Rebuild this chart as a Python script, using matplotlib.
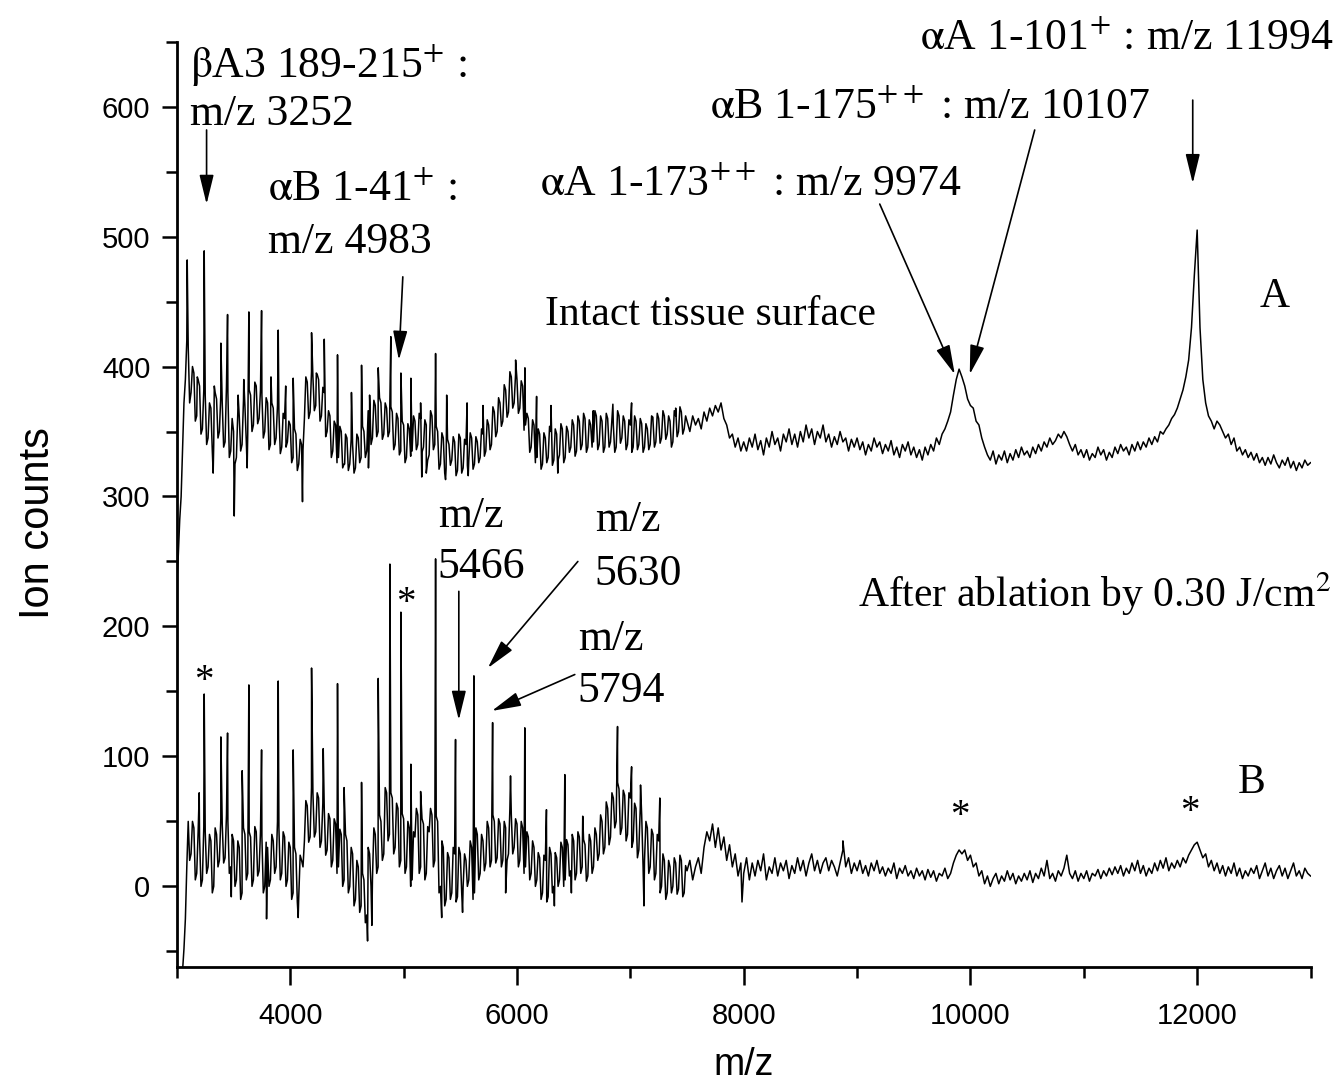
import numpy as np
import matplotlib.pyplot as plt
from matplotlib.ticker import MultipleLocator

plt.rcParams['mathtext.fontset'] = 'stix'

# m/z grid of the digitised baseline (25 Da steps, 3000..13000)
mz_grid = np.arange(3000, 13001, 25)
# extra in-between channels for the noisy low-mass part (3012.5..7487.5)
mz_mid = np.arange(3012.5, 7500, 25)

# trace A: intact tissue surface (baseline, one row per 500 Da)
base_a = [
    235, 282, 335, 390, 415, 380, 395, 362, 385, 352, 378, 345, 368, 340, 375, 350, 372, 342, 380, 335,
    350, 330, 362, 340, 370, 348, 378, 355, 385, 360, 378, 350, 372, 340, 368, 345, 365, 338, 360, 342,
    355, 330, 348, 325, 340, 360, 388, 365, 392, 370, 390, 362, 380, 350, 362, 335, 355, 330, 350, 325,
    345, 325, 340, 322, 345, 330, 350, 335, 362, 345, 370, 350, 372, 348, 368, 350, 365, 340, 360, 335,
    355, 330, 352, 335, 358, 340, 360, 338, 355, 332, 362, 340, 350, 325, 345, 322, 340, 328, 342, 320,
    345, 322, 340, 328, 345, 325, 342, 330, 348, 335, 355, 340, 365, 350, 372, 358, 382, 365, 392, 372,
    390, 368, 385, 355, 360, 338, 355, 330, 348, 325, 345, 330, 350, 328, 348, 332, 352, 330, 350, 338,
    355, 335, 358, 340, 360, 338, 355, 342, 362, 340, 358, 338, 360, 342, 355, 338, 362, 345, 358, 340,
    355, 338, 358, 340, 356, 338, 352, 340, 358, 342, 360, 345, 362, 348, 358, 342, 362, 350, 365, 352,
    358, 350, 362, 355, 360, 352, 365, 358, 368, 362, 370, 365, 372, 360, 355, 345, 348, 338, 345, 335,
    342, 335, 345, 338, 348, 336, 343, 332, 345, 338, 350, 340, 345, 335, 348, 342, 352, 340, 348, 338,
    350, 342, 355, 345, 352, 340, 350, 345, 355, 342, 348, 338, 346, 340, 350, 342, 345, 335, 344, 338,
    345, 336, 342, 332, 340, 335, 345, 338, 342, 333, 340, 335, 343, 332, 338, 330, 340, 335, 342, 332,
    338, 330, 336, 328, 338, 332, 340, 335, 345, 340, 348, 352, 358, 365, 378, 390, 398, 392, 385, 375,
    370, 368, 358, 355, 345, 338, 332, 328, 335, 325, 332, 328, 335, 326, 333, 328, 336, 330, 338, 332,
    335, 330, 338, 333, 340, 335, 342, 338, 345, 340, 343, 348, 345, 350, 346, 340, 335, 340, 332, 336,
    330, 336, 328, 333, 330, 338, 332, 336, 328, 334, 330, 338, 333, 340, 335, 338, 332, 340, 335, 342,
    336, 342, 338, 345, 340, 346, 342, 350, 348, 352, 355, 360, 363, 368, 375, 382, 392, 405, 430, 470,
    505, 430, 390, 372, 362, 358, 352, 358, 355, 350, 345, 348, 340, 345, 335, 338, 332, 336, 330, 334,
    328, 333, 326, 330, 324, 330, 325, 332, 326, 322, 328, 324, 330, 322, 327, 320, 326, 322, 328, 324,
    326,
]
mid_a = [
    255, 300, 372, 420, 372, 400, 358, 390, 348, 382, 340, 372, 335, 380, 345, 378, 338, 385, 330, 360,
    325, 365, 335, 374, 342, 382, 350, 388, 356, 382, 345, 376, 336, 372, 340, 370, 333, 364, 338, 358,
    326, 352, 320, 344, 336, 392, 360, 396, 366, 394, 358, 384, 346, 366, 330, 358, 326, 354, 322, 348,
    320, 344, 318, 348, 326, 354, 330, 366, 340, 374, 346, 376, 344, 372, 346, 369, 336, 364, 332, 358,
    326, 356, 331, 362, 336, 364, 334, 359, 328, 366, 336, 354, 321, 349, 318, 344, 324, 346, 316, 348,
    318, 344, 324, 349, 321, 346, 326, 352, 331, 359, 336, 369, 346, 376, 354, 386, 361, 396, 368, 394,
    364, 389, 351, 364, 334, 359, 326, 352, 321, 349, 326, 354, 324, 352, 328, 356, 326, 354, 334, 359,
    331, 362, 336, 364, 334, 359, 338, 366, 336, 362, 334, 364, 338, 359, 334, 366, 341, 362, 336, 359,
    334, 362, 336, 360, 334, 356, 336, 362, 338, 364, 341, 366, 344, 362, 338, 366, 346, 369, 348, 362,
]

# sharp single-channel spikes of trace A (m/z, counts)
spike_mz_a = [3091, 3180, 3241, 3320, 3330, 3388, 3447, 3506, 3540, 3590, 3620, 3635, 3700, 3747,
              3830, 3894, 3960, 4026, 4108, 4188, 4230, 4300, 4417, 4480, 4540, 4629, 4690, 4700,
              4776, 4887, 4976, 5064, 5150, 5160, 5200, 5282, 5370, 5380, 5560, 5570, 5700, 5988,
              6070, 6173, 6300, 6360, 6673, 6846, 7011, 7199, 7400]
spike_a = [482, 392, 489, 318, 385, 418, 440, 285, 378, 390, 322, 442, 385, 443,
           392, 428, 385, 391, 296, 426, 395, 421, 409, 325, 380, 401, 322, 378,
           399, 423, 395, 391, 372, 315, 318, 410, 313, 378, 372, 316, 370, 405,
           399, 377, 370, 318, 366, 371, 372, 361, 368]

# trace B: after ablation by 0.30 J/cm2
base_b = [
    -80, -75, -65, -25, 50, 25, 45, 10, 38, 5, 42, 15, 35, 0, 40, 20, 48, 22, 50, 15,
    35, 5, 30, -5, 40, 10, 38, 5, 42, 12, 38, 0, 30, 5, 35, 15, 45, 10, 38, 5,
    30, -5, 25, -8, 20, 35, 62, 38, 72, 42, 68, 35, 60, 28, 52, 20, 48, 15, 40, 5,
    35, 0, 25, -10, 15, -15, 5, -22, 25, 5, 40, 15, 50, 25, 72, 40, 68, 30, 60, 20,
    52, 15, 45, 5, 38, 55, 15, 48, 10, 42, 55, 20, 50, 0, 30, -10, 22, -5, 25, -8,
    25, 0, 20, 5, 30, -5, 40, 10, 35, 18, 45, 20, 50, 22, 48, 20, 45, 25, 55, 30,
    48, 20, 45, 15, 38, 10, 30, 5, 22, -5, 20, -8, 25, 0, 22, 5, 30, 5, 32, 12,
    35, 10, 38, 15, 32, 8, 35, 15, 40, 25, 50, 30, 60, 38, 68, 50, 75, 45, 70, 40,
    68, 35, 60, 28, 55, 20, 45, 15, 40, 10, 35, 0, 20, -5, 15, 0, 18, -2, 20, -5,
    12, 20, 5, 15, 22, 10, 30, 42, 35, 48, 30, 45, 28, 38, 20, 32, 15, 25, 8, 18,
    10, 22, 5, 18, 8, 20, 12, 25, 5, 15, 10, 22, 8, 18, 12, 20, 6, 16, 10, 22,
    12, 20, 8, 18, 25, 12, 20, 10, 18, 22, 12, 20, 15, 8, 18, 28, 15, 22, 10, 18,
    12, 20, 10, 16, 8, 18, 12, 20, 10, 15, 8, 14, 10, 18, 6, 14, 10, 16, 8, 12,
    6, 14, 8, 12, 5, 13, 7, 12, 4, 10, 8, 14, 6, 10, 18, 24, 28, 25, 28, 20,
    24, 15, 18, 8, 12, 2, 8, 0, 6, 10, 2, 8, 4, 12, 5, 10, 2, 8, 4, 10,
    5, 12, 3, 10, 6, 14, 8, 20, 6, 10, 4, 12, 8, 14, 24, 10, 6, 12, 4, 10,
    6, 12, 4, 10, 8, 13, 6, 12, 8, 14, 9, 15, 10, 16, 8, 14, 10, 18, 12, 20,
    10, 16, 8, 14, 10, 18, 12, 20, 14, 22, 12, 18, 14, 20, 15, 22, 18, 24, 28, 32,
    34, 28, 22, 25, 15, 20, 12, 18, 10, 16, 8, 15, 10, 18, 8, 14, 6, 12, 8, 14,
    10, 16, 6, 12, 18, 8, 14, 6, 12, 16, 8, 14, 6, 12, 18, 8, 12, 6, 14, 10,
    8,
]
mid_b = [
    -78, -70, -48, 15, 20, 50, 5, 42, 0, 46, 10, 40, -5, 45, 15, 52, 18, 55, 10, 40,
    0, 35, -10, 45, 5, 42, 0, 46, 8, 42, -5, 34, 0, 40, 10, 50, 5, 42, 0, 34,
    -10, 30, -12, 24, 15, 66, 34, 76, 38, 72, 30, 64, 24, 56, 15, 52, 10, 44, 0, 40,
    -5, 30, -15, 20, -20, 10, -28, 30, 0, 45, 10, 55, 20, 76, 35, 72, 25, 64, 15, 56,
    10, 50, 0, 42, 60, 10, 52, 5, 46, 60, 15, 54, -5, 35, -15, 26, -10, 30, -12, 30,
    -5, 25, 0, 35, -10, 45, 5, 40, 12, 50, 15, 55, 18, 52, 15, 50, 20, 60, 25, 52,
    15, 50, 10, 42, 5, 35, 0, 26, -10, 24, -12, 30, -5, 26, 0, 34, 0, 36, 8, 40,
    5, 42, 10, 36, 4, 40, 10, 45, 20, 55, 25, 65, 32, 72, 45, 80, 40, 74, 35, 72,
    30, 64, 22, 60, 15, 50, 10, 44, 5, 40, -5, 25, -10, 20, -5, 22, -6, 24, -8, 16,
]

spike_mz_b = [3197, 3241, 3388, 3447, 3480, 3576, 3635, 3747, 3791, 3894, 4026, 4070, 4188, 4291,
              4417, 4475, 4629, 4682, 4720, 4776, 4879, 4976, 5064, 5150, 5282, 5336, 5458, 5520,
              5620, 5785, 5900, 5943, 6069, 6260, 6330, 6422, 6480, 6580, 6887, 7011, 7090, 7120,
              7260, 7985, 8875]
spike_b = [72, 148, 115, 118, -8, 89, 155, 105, -25, 158, 105, -24, 168, 106,
           156, 76, 80, -42, -30, 160, 248, 211, 94, 73, 252, -24, 113, -20,
           162, 126, -5, 85, 122, 59, -15, 86, -5, 54, 123, 92, 78, -15,
           68, -12, 35]


def merge(base, mid, spike_mz, spike_y):
    mz = np.concatenate([mz_grid, mz_mid, spike_mz])
    y = np.concatenate([base, mid, spike_y])
    order = np.argsort(mz, kind='stable')
    return mz[order], y[order]


mz_a, y_a = merge(base_a, mid_a, spike_mz_a, spike_a)
mz_b, y_b = merge(base_b, mid_b, spike_mz_b, spike_b)

fig = plt.figure(figsize=(13.4, 10.81), dpi=100)
ax = fig.add_axes([0.132, 0.1055, 0.846, 0.856])

ax.plot(mz_a, y_a, color='black', lw=1.1)
ax.plot(mz_b, y_b, color='black', lw=1.1)

ax.set_xlim(3000, 13000)
ax.set_ylim(-62, 650)

for s in ['top', 'right']:
    ax.spines[s].set_visible(False)
for s in ['left', 'bottom']:
    ax.spines[s].set_linewidth(2.0)

ax.xaxis.set_major_locator(MultipleLocator(2000))
ax.xaxis.set_minor_locator(MultipleLocator(1000))
ax.yaxis.set_major_locator(MultipleLocator(100))
ax.yaxis.set_minor_locator(MultipleLocator(50))
ax.set_xticks([4000, 6000, 8000, 10000, 12000])
ax.set_yticks([0, 100, 200, 300, 400, 500, 600])
ax.tick_params(axis='x', which='major', direction='out', length=13, width=1.8,
               labelsize=21, pad=12)
ax.tick_params(axis='x', which='minor', direction='out', length=8, width=1.8)
ax.tick_params(axis='y', which='major', direction='out', length=11, width=1.8,
               labelsize=21, pad=8)
ax.tick_params(axis='y', which='minor', direction='out', length=8, width=1.8)
for lab in ax.get_xticklabels() + ax.get_yticklabels():
    lab.set_family('Liberation Sans')

ax.set_xlabel('m/z', fontsize=27, family='Liberation Sans')
ax.set_ylabel('Ion counts', fontsize=30, family='Liberation Sans')
ax.xaxis.set_label_coords(0.5, -0.086)
ax.yaxis.set_label_coords(-0.105, 0.48)

serif = 'Liberation Serif'
fs = 31.5
arrow = dict(arrowstyle='-|>,head_length=0.9,head_width=0.22', color='black', lw=1.2,
             mutation_scale=20, shrinkA=0, shrinkB=0)

# labels for trace A
ax.text(3115, 631, r'$\mathrm{\beta}$A3 189-215$^{+}$ :', fontsize=fs, family=serif,
        va='center', ha='left')
ax.text(3115, 594, 'm/z 3252', fontsize=fs, family=serif, va='center', ha='left')
ax.annotate('', xy=(3262, 525), xytext=(3262, 582), arrowprops=arrow)

ax.text(3803, 536, r'$\mathrm{\alpha}$B 1-41$^{+}$ :', fontsize=fs, family=serif,
        va='center', ha='left')
ax.text(3803, 496, 'm/z 4983', fontsize=fs, family=serif, va='center', ha='left')
ax.annotate('', xy=(4958, 405), xytext=(4993, 469), arrowprops=arrow)

ax.text(6202, 540, r'$\mathrm{\alpha}$A 1-173$^{++}$ : m/z 9974', fontsize=fs, family=serif,
        va='center', ha='left')
ax.annotate('', xy=(9862, 394), xytext=(9200, 525), arrowprops=arrow)

ax.text(7701, 599, r'$\mathrm{\alpha}$B 1-175$^{++}$ : m/z 10107', fontsize=fs, family=serif,
        va='center', ha='left')
ax.annotate('', xy=(9994, 394), xytext=(10567, 582), arrowprops=arrow)

ax.text(9553, 652, r'$\mathrm{\alpha}$A 1-101$^{+}$ : m/z 11994', fontsize=fs, family=serif,
        va='center', ha='left', clip_on=False)
ax.annotate('', xy=(11961, 541), xytext=(11961, 605), arrowprops=arrow)

ax.text(6246, 440, 'Intact tissue surface', fontsize=30, family=serif, va='center', ha='left')
ax.text(12684, 454, 'A', fontsize=30, family=serif, va='center', ha='center')

# labels for trace B
ax.text(5302, 285, 'm/z', fontsize=fs, family=serif, va='center', ha='left')
ax.text(5302, 246, '5466', fontsize=fs, family=serif, va='center', ha='left')
ax.annotate('', xy=(5487, 128), xytext=(5487, 227), arrowprops=arrow)

ax.text(6687, 282, 'm/z', fontsize=fs, family=serif, va='center', ha='left')
ax.text(6687, 240, '5630', fontsize=fs, family=serif, va='center', ha='left')
ax.annotate('', xy=(5743, 168), xytext=(6537, 250), arrowprops=arrow)

ax.text(6537, 190, 'm/z', fontsize=fs, family=serif, va='center', ha='left')
ax.text(6537, 150, '5794', fontsize=fs, family=serif, va='center', ha='left')
ax.annotate('', xy=(5778, 135), xytext=(6510, 163), arrowprops=arrow)

ax.text(9006, 225, 'After ablation by 0.30 J/cm$^{2}$', fontsize=30, family=serif,
        va='center', ha='left', clip_on=False)
ax.text(12480, 80, 'B', fontsize=30, family=serif, va='center', ha='center')

for sx, sy in [(3241, 158), (5017, 218), (9906, 54), (11935, 57)]:
    ax.text(sx, sy, '*', fontsize=28, family=serif, va='center', ha='center')

fig.savefig('out.png', dpi=100)
